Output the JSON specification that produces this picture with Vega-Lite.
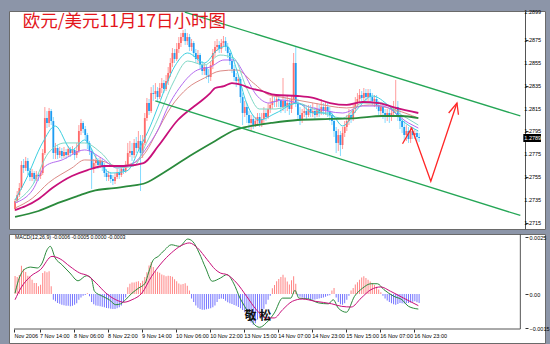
{
"$schema":"https://vega.github.io/schema/vega-lite/v6.json",
"background":"#8c95a8",
"padding":{"left":8,"top":8,"right":0,"bottom":0},
"spacing":3,
"config":{"view":{"stroke":"#6a6a6a","fill":"white"},"axis":{"labelFont":"Liberation Sans","labelFontSize":5.5,"labelColor":"#000","grid":false,"labelOverlap":false,"labelFlush":false,"labelSeparation":0},"axisY":{"labelOverlap":false},"axisRight":{"labelOverlap":false}},
"datasets":{
"bars":[
{"i":0,"o":1.27274,"h":1.27362,"l":1.27257,"c":1.27344,"m":0.00079},
{"i":1,"o":1.27344,"h":1.27431,"l":1.27327,"c":1.27396,"m":0.00075},
{"i":2,"o":1.27396,"h":1.27501,"l":1.27379,"c":1.27457,"m":0.00083},
{"i":3,"o":1.27457,"h":1.27693,"l":1.27440,"c":1.27658,"m":0.00124},
{"i":4,"o":1.27658,"h":1.27710,"l":1.27588,"c":1.27632,"m":0.00110},
{"i":5,"o":1.27632,"h":1.27728,"l":1.27606,"c":1.27693,"m":0.00096},
{"i":6,"o":1.27693,"h":1.27719,"l":1.27571,"c":1.27606,"m":0.00080},
{"i":7,"o":1.27606,"h":1.27632,"l":1.27518,"c":1.27553,"m":0.00078},
{"i":8,"o":1.27553,"h":1.27623,"l":1.27518,"c":1.27588,"m":0.00063},
{"i":9,"o":1.27588,"h":1.27606,"l":1.27501,"c":1.27536,"m":0.00048},
{"i":10,"o":1.27536,"h":1.27606,"l":1.27518,"c":1.27571,"m":0.00048},
{"i":11,"o":1.27571,"h":1.27588,"l":1.27518,"c":1.27562,"m":0.00034},
{"i":12,"o":1.27562,"h":1.27632,"l":1.27536,"c":1.27588,"m":0.00041},
{"i":13,"o":1.27588,"h":1.27797,"l":1.27571,"c":1.27762,"m":0.00092},
{"i":14,"o":1.27762,"h":1.28163,"l":1.27745,"c":1.28067,"m":0.00100},
{"i":15,"o":1.28067,"h":1.28128,"l":1.27980,"c":1.28024,"m":0.00095},
{"i":16,"o":1.28024,"h":1.28155,"l":1.27989,"c":1.28128,"m":0.00100},
{"i":17,"o":1.28128,"h":1.28146,"l":1.28006,"c":1.28041,"m":0.00034},
{"i":18,"o":1.28041,"h":1.28076,"l":1.27710,"c":1.27762,"m":-0.00025},
{"i":19,"o":1.27762,"h":1.27850,"l":1.27710,"c":1.27806,"m":-0.00032},
{"i":20,"o":1.27806,"h":1.27832,"l":1.27710,"c":1.27745,"m":-0.00039},
{"i":21,"o":1.27745,"h":1.27815,"l":1.27719,"c":1.27780,"m":-0.00043},
{"i":22,"o":1.27780,"h":1.27806,"l":1.27710,"c":1.27736,"m":-0.00047},
{"i":23,"o":1.27736,"h":1.27815,"l":1.27719,"c":1.27771,"m":-0.00049},
{"i":24,"o":1.27771,"h":1.27797,"l":1.27710,"c":1.27745,"m":-0.00051},
{"i":25,"o":1.27745,"h":1.27823,"l":1.27728,"c":1.27797,"m":-0.00052},
{"i":26,"o":1.27797,"h":1.27815,"l":1.27728,"c":1.27762,"m":-0.00054},
{"i":27,"o":1.27762,"h":1.27823,"l":1.27745,"c":1.27789,"m":-0.00052},
{"i":28,"o":1.27789,"h":1.27806,"l":1.27702,"c":1.27745,"m":-0.00047},
{"i":29,"o":1.27745,"h":1.27850,"l":1.27719,"c":1.27780,"m":-0.00040},
{"i":30,"o":1.27780,"h":1.28006,"l":1.27762,"c":1.27954,"m":-0.00025},
{"i":31,"o":1.27954,"h":1.28059,"l":1.27919,"c":1.28024,"m":-0.00015},
{"i":32,"o":1.28024,"h":1.28041,"l":1.27937,"c":1.27971,"m":-0.00008},
{"i":33,"o":1.27971,"h":1.27998,"l":1.27876,"c":1.27919,"m":-0.00004},
{"i":34,"o":1.27919,"h":1.27937,"l":1.27797,"c":1.27850,"m":0.00003},
{"i":35,"o":1.27850,"h":1.27867,"l":1.27745,"c":1.27780,"m":-0.00010},
{"i":36,"o":1.27780,"h":1.27797,"l":1.27449,"c":1.27632,"m":-0.00035},
{"i":37,"o":1.27632,"h":1.27710,"l":1.27588,"c":1.27675,"m":-0.00045},
{"i":38,"o":1.27675,"h":1.27745,"l":1.27640,"c":1.27693,"m":-0.00050},
{"i":39,"o":1.27693,"h":1.27719,"l":1.27623,"c":1.27658,"m":-0.00052},
{"i":40,"o":1.27658,"h":1.27728,"l":1.27632,"c":1.27693,"m":-0.00054},
{"i":41,"o":1.27693,"h":1.27710,"l":1.27606,"c":1.27649,"m":-0.00056},
{"i":42,"o":1.27649,"h":1.27675,"l":1.27553,"c":1.27588,"m":-0.00058},
{"i":43,"o":1.27588,"h":1.27623,"l":1.27518,"c":1.27553,"m":-0.00061},
{"i":44,"o":1.27553,"h":1.27606,"l":1.27518,"c":1.27571,"m":-0.00063},
{"i":45,"o":1.27571,"h":1.27597,"l":1.27501,"c":1.27536,"m":-0.00065},
{"i":46,"o":1.27536,"h":1.27571,"l":1.27483,"c":1.27518,"m":-0.00066},
{"i":47,"o":1.27518,"h":1.27588,"l":1.27492,"c":1.27553,"m":-0.00066},
{"i":48,"o":1.27553,"h":1.27623,"l":1.27536,"c":1.27588,"m":-0.00063},
{"i":49,"o":1.27588,"h":1.27623,"l":1.27536,"c":1.27571,"m":-0.00058},
{"i":50,"o":1.27571,"h":1.27658,"l":1.27553,"c":1.27623,"m":-0.00050},
{"i":51,"o":1.27623,"h":1.27658,"l":1.27579,"c":1.27606,"m":-0.00035},
{"i":52,"o":1.27606,"h":1.27693,"l":1.27588,"c":1.27658,"m":-0.00015},
{"i":53,"o":1.27658,"h":1.27850,"l":1.27640,"c":1.27762,"m":0.00030},
{"i":54,"o":1.27762,"h":1.27867,"l":1.27728,"c":1.27780,"m":0.00045},
{"i":55,"o":1.27780,"h":1.27850,"l":1.27693,"c":1.27745,"m":0.00050},
{"i":56,"o":1.27745,"h":1.27884,"l":1.27719,"c":1.27850,"m":0.00051},
{"i":57,"o":1.27850,"h":1.27902,"l":1.27762,"c":1.27806,"m":0.00054},
{"i":58,"o":1.27806,"h":1.27954,"l":1.27780,"c":1.27867,"m":0.00056},
{"i":59,"o":1.27867,"h":1.27919,"l":1.27431,"c":1.27762,"m":0.00048},
{"i":60,"o":1.27762,"h":1.27919,"l":1.27719,"c":1.27850,"m":0.00058},
{"i":61,"o":1.27850,"h":1.28111,"l":1.27832,"c":1.28067,"m":0.00075},
{"i":62,"o":1.28067,"h":1.28242,"l":1.28041,"c":1.28198,"m":0.00095},
{"i":63,"o":1.28198,"h":1.28233,"l":1.28094,"c":1.28128,"m":0.00125},
{"i":64,"o":1.28128,"h":1.28337,"l":1.28111,"c":1.28285,"m":0.00140},
{"i":65,"o":1.28285,"h":1.28355,"l":1.28216,"c":1.28277,"m":0.00118},
{"i":66,"o":1.28277,"h":1.28372,"l":1.28233,"c":1.28303,"m":0.00100},
{"i":67,"o":1.28303,"h":1.28337,"l":1.28216,"c":1.28250,"m":0.00098},
{"i":68,"o":1.28250,"h":1.28372,"l":1.28233,"c":1.28329,"m":0.00093},
{"i":69,"o":1.28329,"h":1.28416,"l":1.28285,"c":1.28372,"m":0.00086},
{"i":70,"o":1.28372,"h":1.28399,"l":1.28285,"c":1.28320,"m":0.00082},
{"i":71,"o":1.28320,"h":1.28442,"l":1.28303,"c":1.28390,"m":0.00078},
{"i":72,"o":1.28390,"h":1.28512,"l":1.28355,"c":1.28460,"m":0.00080},
{"i":73,"o":1.28460,"h":1.28590,"l":1.28425,"c":1.28547,"m":0.00079},
{"i":74,"o":1.28547,"h":1.28677,"l":1.28512,"c":1.28634,"m":0.00076},
{"i":75,"o":1.28634,"h":1.28669,"l":1.28547,"c":1.28582,"m":0.00065},
{"i":76,"o":1.28582,"h":1.28721,"l":1.28564,"c":1.28669,"m":0.00056},
{"i":77,"o":1.28669,"h":1.28773,"l":1.28634,"c":1.28721,"m":0.00046},
{"i":78,"o":1.28721,"h":1.28808,"l":1.28686,"c":1.28773,"m":0.00042},
{"i":79,"o":1.28773,"h":1.28834,"l":1.28738,"c":1.28808,"m":0.00044},
{"i":80,"o":1.28808,"h":1.28843,"l":1.28704,"c":1.28738,"m":0.00047},
{"i":81,"o":1.28738,"h":1.28808,"l":1.28704,"c":1.28773,"m":0.00036},
{"i":82,"o":1.28773,"h":1.28799,"l":1.28651,"c":1.28686,"m":0.00015},
{"i":83,"o":1.28686,"h":1.28756,"l":1.28651,"c":1.28721,"m":-0.00020},
{"i":84,"o":1.28721,"h":1.28738,"l":1.28599,"c":1.28634,"m":-0.00035},
{"i":85,"o":1.28634,"h":1.28669,"l":1.28547,"c":1.28582,"m":-0.00050},
{"i":86,"o":1.28582,"h":1.28660,"l":1.28547,"c":1.28616,"m":-0.00060},
{"i":87,"o":1.28616,"h":1.28634,"l":1.28494,"c":1.28529,"m":-0.00066},
{"i":88,"o":1.28529,"h":1.28564,"l":1.28442,"c":1.28477,"m":-0.00069},
{"i":89,"o":1.28477,"h":1.28547,"l":1.28442,"c":1.28512,"m":-0.00069},
{"i":90,"o":1.28512,"h":1.28529,"l":1.28407,"c":1.28442,"m":-0.00067},
{"i":91,"o":1.28442,"h":1.28494,"l":1.28372,"c":1.28425,"m":-0.00065},
{"i":92,"o":1.28425,"h":1.28564,"l":1.28390,"c":1.28529,"m":-0.00062},
{"i":93,"o":1.28529,"h":1.28669,"l":1.28494,"c":1.28634,"m":-0.00058},
{"i":94,"o":1.28634,"h":1.28738,"l":1.28599,"c":1.28686,"m":-0.00050},
{"i":95,"o":1.28686,"h":1.28756,"l":1.28651,"c":1.28704,"m":-0.00035},
{"i":96,"o":1.28704,"h":1.28738,"l":1.28634,"c":1.28669,"m":-0.00022},
{"i":97,"o":1.28669,"h":1.28756,"l":1.28634,"c":1.28721,"m":-0.00020},
{"i":98,"o":1.28721,"h":1.28782,"l":1.28686,"c":1.28738,"m":-0.00022},
{"i":99,"o":1.28738,"h":1.28773,"l":1.28651,"c":1.28686,"m":-0.00030},
{"i":100,"o":1.28686,"h":1.28721,"l":1.28590,"c":1.28634,"m":-0.00036},
{"i":101,"o":1.28634,"h":1.28651,"l":1.28529,"c":1.28564,"m":-0.00040},
{"i":102,"o":1.28564,"h":1.28599,"l":1.28460,"c":1.28494,"m":-0.00044},
{"i":103,"o":1.28494,"h":1.28529,"l":1.28390,"c":1.28425,"m":-0.00048},
{"i":104,"o":1.28425,"h":1.28460,"l":1.28337,"c":1.28390,"m":-0.00052},
{"i":105,"o":1.28390,"h":1.28442,"l":1.28355,"c":1.28407,"m":-0.00057},
{"i":106,"o":1.28407,"h":1.28425,"l":1.28198,"c":1.28250,"m":-0.00063},
{"i":107,"o":1.28250,"h":1.28285,"l":1.28006,"c":1.28111,"m":-0.00070},
{"i":108,"o":1.28111,"h":1.28216,"l":1.28076,"c":1.28163,"m":-0.00080},
{"i":109,"o":1.28163,"h":1.28198,"l":1.28024,"c":1.28094,"m":-0.00092},
{"i":110,"o":1.28094,"h":1.28128,"l":1.27971,"c":1.28024,"m":-0.00105},
{"i":111,"o":1.28024,"h":1.28094,"l":1.27954,"c":1.28059,"m":-0.00125},
{"i":112,"o":1.28059,"h":1.28094,"l":1.27971,"c":1.28006,"m":-0.00135},
{"i":113,"o":1.28006,"h":1.28076,"l":1.27989,"c":1.28041,"m":-0.00128},
{"i":114,"o":1.28041,"h":1.28111,"l":1.28006,"c":1.28076,"m":-0.00112},
{"i":115,"o":1.28076,"h":1.28111,"l":1.27989,"c":1.28024,"m":-0.00100},
{"i":116,"o":1.28024,"h":1.28111,"l":1.27989,"c":1.28059,"m":-0.00085},
{"i":117,"o":1.28059,"h":1.28163,"l":1.28024,"c":1.28111,"m":-0.00065},
{"i":118,"o":1.28111,"h":1.28146,"l":1.28041,"c":1.28076,"m":-0.00045},
{"i":119,"o":1.28076,"h":1.28198,"l":1.28059,"c":1.28146,"m":-0.00025},
{"i":120,"o":1.28146,"h":1.28242,"l":1.28111,"c":1.28181,"m":-0.00008},
{"i":121,"o":1.28181,"h":1.28268,"l":1.28146,"c":1.28216,"m":0.00025},
{"i":122,"o":1.28216,"h":1.28250,"l":1.28163,"c":1.28207,"m":0.00040},
{"i":123,"o":1.28207,"h":1.28268,"l":1.28163,"c":1.28233,"m":0.00056},
{"i":124,"o":1.28233,"h":1.28268,"l":1.28163,"c":1.28224,"m":0.00066},
{"i":125,"o":1.28224,"h":1.28233,"l":1.28111,"c":1.28163,"m":0.00075},
{"i":126,"o":1.28163,"h":1.28416,"l":1.28128,"c":1.28216,"m":0.00085},
{"i":127,"o":1.28216,"h":1.28250,"l":1.28111,"c":1.28163,"m":0.00072},
{"i":128,"o":1.28163,"h":1.28268,"l":1.28128,"c":1.28198,"m":0.00055},
{"i":129,"o":1.28198,"h":1.28233,"l":1.28094,"c":1.28146,"m":0.00042},
{"i":130,"o":1.28146,"h":1.28268,"l":1.28111,"c":1.28233,"m":0.00060},
{"i":131,"o":1.28233,"h":1.28634,"l":1.28198,"c":1.28547,"m":0.00078},
{"i":132,"o":1.28547,"h":1.28686,"l":1.28163,"c":1.28198,"m":0.00045},
{"i":133,"o":1.28198,"h":1.28233,"l":1.28041,"c":1.28094,"m":-0.00008},
{"i":134,"o":1.28094,"h":1.28163,"l":1.28006,"c":1.28059,"m":-0.00012},
{"i":135,"o":1.28059,"h":1.28146,"l":1.28024,"c":1.28111,"m":-0.00015},
{"i":136,"o":1.28111,"h":1.28181,"l":1.28076,"c":1.28128,"m":-0.00018},
{"i":137,"o":1.28128,"h":1.28163,"l":1.28059,"c":1.28094,"m":-0.00020},
{"i":138,"o":1.28094,"h":1.28181,"l":1.28076,"c":1.28146,"m":-0.00022},
{"i":139,"o":1.28146,"h":1.28181,"l":1.28076,"c":1.28111,"m":-0.00024},
{"i":140,"o":1.28111,"h":1.28198,"l":1.28076,"c":1.28128,"m":-0.00025},
{"i":141,"o":1.28128,"h":1.28163,"l":1.28059,"c":1.28094,"m":-0.00024},
{"i":142,"o":1.28094,"h":1.28198,"l":1.28076,"c":1.28146,"m":-0.00022},
{"i":143,"o":1.28146,"h":1.28181,"l":1.28076,"c":1.28111,"m":-0.00020},
{"i":144,"o":1.28111,"h":1.28233,"l":1.28094,"c":1.28163,"m":-0.00018},
{"i":145,"o":1.28163,"h":1.28198,"l":1.28094,"c":1.28128,"m":-0.00015},
{"i":146,"o":1.28128,"h":1.28216,"l":1.28094,"c":1.28163,"m":-0.00012},
{"i":147,"o":1.28163,"h":1.28198,"l":1.28076,"c":1.28128,"m":-0.00008},
{"i":148,"o":1.28128,"h":1.28163,"l":1.28041,"c":1.28094,"m":-0.00005},
{"i":149,"o":1.28094,"h":1.28128,"l":1.28006,"c":1.28041,"m":0.00015},
{"i":150,"o":1.28041,"h":1.28076,"l":1.27902,"c":1.27954,"m":0.00026},
{"i":151,"o":1.27954,"h":1.27989,"l":1.27762,"c":1.27850,"m":-0.00015},
{"i":152,"o":1.27850,"h":1.27971,"l":1.27780,"c":1.27919,"m":-0.00035},
{"i":153,"o":1.27919,"h":1.27954,"l":1.27736,"c":1.27832,"m":-0.00045},
{"i":154,"o":1.27832,"h":1.27989,"l":1.27797,"c":1.27937,"m":-0.00047},
{"i":155,"o":1.27937,"h":1.28041,"l":1.27902,"c":1.27989,"m":-0.00040},
{"i":156,"o":1.27989,"h":1.28094,"l":1.27954,"c":1.28041,"m":-0.00025},
{"i":157,"o":1.28041,"h":1.28146,"l":1.28006,"c":1.28094,"m":-0.00008},
{"i":158,"o":1.28094,"h":1.28128,"l":1.28024,"c":1.28059,"m":0.00015},
{"i":159,"o":1.28059,"h":1.28198,"l":1.28041,"c":1.28146,"m":0.00026},
{"i":160,"o":1.28146,"h":1.28250,"l":1.28111,"c":1.28198,"m":0.00042},
{"i":161,"o":1.28198,"h":1.28285,"l":1.28163,"c":1.28233,"m":0.00052},
{"i":162,"o":1.28233,"h":1.28320,"l":1.28198,"c":1.28268,"m":0.00063},
{"i":163,"o":1.28268,"h":1.28303,"l":1.28216,"c":1.28242,"m":0.00072},
{"i":164,"o":1.28242,"h":1.28329,"l":1.28216,"c":1.28285,"m":0.00078},
{"i":165,"o":1.28285,"h":1.28320,"l":1.28216,"c":1.28250,"m":0.00070},
{"i":166,"o":1.28250,"h":1.28320,"l":1.28216,"c":1.28285,"m":0.00062},
{"i":167,"o":1.28285,"h":1.28320,"l":1.28207,"c":1.28250,"m":0.00055},
{"i":168,"o":1.28250,"h":1.28285,"l":1.28181,"c":1.28216,"m":0.00048},
{"i":169,"o":1.28216,"h":1.28268,"l":1.28163,"c":1.28233,"m":0.00040},
{"i":170,"o":1.28233,"h":1.28268,"l":1.28146,"c":1.28181,"m":0.00032},
{"i":171,"o":1.28181,"h":1.28216,"l":1.28094,"c":1.28128,"m":0.00020},
{"i":172,"o":1.28128,"h":1.28198,"l":1.28076,"c":1.28163,"m":0.00008},
{"i":173,"o":1.28163,"h":1.28198,"l":1.28059,"c":1.28111,"m":-0.00008},
{"i":174,"o":1.28111,"h":1.28146,"l":1.28024,"c":1.28076,"m":-0.00020},
{"i":175,"o":1.28076,"h":1.28146,"l":1.28041,"c":1.28111,"m":-0.00028},
{"i":176,"o":1.28111,"h":1.28146,"l":1.28024,"c":1.28076,"m":-0.00035},
{"i":177,"o":1.28076,"h":1.28163,"l":1.28041,"c":1.28111,"m":-0.00040},
{"i":178,"o":1.28111,"h":1.28216,"l":1.28076,"c":1.28146,"m":-0.00045},
{"i":179,"o":1.28146,"h":1.28399,"l":1.28111,"c":1.28163,"m":-0.00047},
{"i":180,"o":1.28163,"h":1.28216,"l":1.28041,"c":1.28094,"m":-0.00044},
{"i":181,"o":1.28094,"h":1.28146,"l":1.27971,"c":1.28041,"m":-0.00039},
{"i":182,"o":1.28041,"h":1.28094,"l":1.27937,"c":1.27989,"m":-0.00040},
{"i":183,"o":1.27989,"h":1.28041,"l":1.27867,"c":1.27919,"m":-0.00042},
{"i":184,"o":1.27919,"h":1.28006,"l":1.27867,"c":1.27954,"m":-0.00041},
{"i":185,"o":1.27954,"h":1.27989,"l":1.27850,"c":1.27884,"m":-0.00039},
{"i":186,"o":1.27884,"h":1.27989,"l":1.27850,"c":1.27954,"m":-0.00037},
{"i":187,"o":1.27954,"h":1.27989,"l":1.27884,"c":1.27919,"m":-0.00034},
{"i":188,"o":1.27919,"h":1.27971,"l":1.27884,"c":1.27937,"m":-0.00032},
{"i":189,"o":1.27937,"h":1.27954,"l":1.27867,"c":1.27902,"m":-0.00036},
{"i":190,"o":1.27902,"h":1.27937,"l":1.27858,"c":1.27893,"m":-0.00039}
],
"ma":[
{"s":"g","x":0,"p":1.27205},{"s":"g","x":11.04,"p":1.27257},{"s":"g","x":20.27,"p":1.27327},{"s":"g","x":29.49,"p":1.27388},{"s":"g","x":36.42,"p":1.27431},{"s":"g","x":46.57,"p":1.27457},{"s":"g","x":54.41,"p":1.27475},{"s":"g","x":61.34,"p":1.27501},{"s":"g","x":69.64,"p":1.27588},{"s":"g","x":82.1,"p":1.27736},{"s":"g","x":94.1,"p":1.27867},{"s":"g","x":103.33,"p":1.27963},{"s":"g","x":111.18,"p":1.27998},{"s":"g","x":120.41,"p":1.28024},{"s":"g","x":132.87,"p":1.2805},{"s":"g","x":148.1,"p":1.28059},{"s":"g","x":160.56,"p":1.28067},{"s":"g","x":172.56,"p":1.28085},{"s":"g","x":181.78,"p":1.28085},{"s":"g","x":189.63,"p":1.28067},
{"s":"m","x":0,"p":1.27265},{"s":"m","x":5.04,"p":1.273},{"s":"m","x":11.04,"p":1.27362},{"s":"m","x":17.5,"p":1.27457},{"s":"m","x":26.73,"p":1.27562},{"s":"m","x":34.11,"p":1.27614},{"s":"m","x":41.95,"p":1.27649},{"s":"m","x":51.18,"p":1.27649},{"s":"m","x":60.41,"p":1.27675},{"s":"m","x":67.33,"p":1.27823},{"s":"m","x":76.56,"p":1.2805},{"s":"m","x":84.41,"p":1.28172},{"s":"m","x":88.1,"p":1.28224},{"s":"m","x":91.79,"p":1.28285},{"s":"m","x":94.1,"p":1.28329},{"s":"m","x":98.25,"p":1.28346},{"s":"m","x":101.95,"p":1.28372},{"s":"m","x":106.56,"p":1.28355},{"s":"m","x":110.26,"p":1.28329},{"s":"m","x":115.79,"p":1.28303},{"s":"m","x":122.71,"p":1.28268},{"s":"m","x":132.87,"p":1.28259},{"s":"m","x":140.25,"p":1.28242},{"s":"m","x":148.1,"p":1.28198},{"s":"m","x":155.94,"p":1.28181},{"s":"m","x":163.33,"p":1.28207},{"s":"m","x":171.18,"p":1.28198},{"s":"m","x":179.01,"p":1.28155},{"s":"m","x":189.63,"p":1.28111},
{"s":"sa","x":0,"p":1.27283},{"s":"sa","x":8.27,"p":1.2737},{"s":"sa","x":15.65,"p":1.27501},{"s":"sa","x":26.73,"p":1.27632},{"s":"sa","x":32.73,"p":1.27702},{"s":"sa","x":40.57,"p":1.27693},{"s":"sa","x":47.95,"p":1.27649},{"s":"sa","x":55.8,"p":1.27675},{"s":"sa","x":61.8,"p":1.2778},{"s":"sa","x":65.95,"p":1.27919},{"s":"sa","x":73.33,"p":1.28163},{"s":"sa","x":81.18,"p":1.28329},{"s":"sa","x":89.02,"p":1.28416},{"s":"sa","x":96.41,"p":1.28477},{"s":"sa","x":104.25,"p":1.28486},{"s":"sa","x":112.1,"p":1.28372},{"s":"sa","x":119.48,"p":1.28268},{"s":"sa","x":125.02,"p":1.2825},{"s":"sa","x":140.25,"p":1.28198},{"s":"sa","x":155.94,"p":1.28155},{"s":"sa","x":166.56,"p":1.28181},{"s":"sa","x":179.01,"p":1.28137},{"s":"sa","x":189.63,"p":1.28067},
{"s":"v","x":0,"p":1.27327},{"s":"v","x":8.27,"p":1.2744},{"s":"v","x":14.27,"p":1.27649},{"s":"v","x":22.11,"p":1.27702},{"s":"v","x":32.73,"p":1.27789},{"s":"v","x":40.57,"p":1.27719},{"s":"v","x":47.95,"p":1.27632},{"s":"v","x":55.8,"p":1.27675},{"s":"v","x":61.8,"p":1.27806},{"s":"v","x":68.26,"p":1.28006},{"s":"v","x":70.56,"p":1.28111},{"s":"v","x":77.95,"p":1.28346},{"s":"v","x":85.79,"p":1.28486},{"s":"v","x":91.79,"p":1.28512},{"s":"v","x":98.25,"p":1.28573},{"s":"v","x":102.87,"p":1.28573},{"s":"v","x":107.49,"p":1.2846},{"s":"v","x":113.48,"p":1.28268},{"s":"v","x":119.48,"p":1.28198},{"s":"v","x":125.02,"p":1.28224},{"s":"v","x":140.25,"p":1.28155},{"s":"v","x":154.09,"p":1.28111},{"s":"v","x":163.33,"p":1.28172},{"s":"v","x":172.56,"p":1.28172},{"s":"v","x":185.01,"p":1.28024},{"s":"v","x":189.63,"p":1.2798},
{"s":"c2","x":0,"p":1.27336},{"s":"c2","x":8.27,"p":1.27483},{"s":"c2","x":15.65,"p":1.27762},{"s":"c2","x":23.5,"p":1.2785},{"s":"c2","x":32.73,"p":1.2785},{"s":"c2","x":40.57,"p":1.27762},{"s":"c2","x":47.95,"p":1.27632},{"s":"c2","x":55.8,"p":1.27649},{"s":"c2","x":61.8,"p":1.2785},{"s":"c2","x":67.33,"p":1.28067},{"s":"c2","x":74.26,"p":1.28372},{"s":"c2","x":81.18,"p":1.28564},{"s":"c2","x":89.02,"p":1.28529},{"s":"c2","x":96.41,"p":1.28616},{"s":"c2","x":102.87,"p":1.2859},{"s":"c2","x":108.87,"p":1.28329},{"s":"c2","x":114.87,"p":1.28146},{"s":"c2","x":122.71,"p":1.28146},{"s":"c2","x":132.87,"p":1.28198},{"s":"c2","x":140.25,"p":1.28146},{"s":"c2","x":154.09,"p":1.28067},{"s":"c2","x":163.33,"p":1.28198},{"s":"c2","x":172.56,"p":1.28198},{"s":"c2","x":181.78,"p":1.28094},{"s":"c2","x":189.63,"p":1.28006},
{"s":"c1","x":0,"p":1.27353},{"s":"c1","x":5.04,"p":1.27527},{"s":"c1","x":12.88,"p":1.2785},{"s":"c1","x":18.88,"p":1.27998},{"s":"c1","x":26.73,"p":1.27789},{"s":"c1","x":32.73,"p":1.27876},{"s":"c1","x":38.73,"p":1.27702},{"s":"c1","x":45.19,"p":1.27588},{"s":"c1","x":52.57,"p":1.27606},{"s":"c1","x":59.03,"p":1.27823},{"s":"c1","x":63.65,"p":1.27998},{"s":"c1","x":67.33,"p":1.28172},{"s":"c1","x":75.18,"p":1.28521},{"s":"c1","x":81.18,"p":1.28634},{"s":"c1","x":89.02,"p":1.28547},{"s":"c1","x":95.02,"p":1.2866},{"s":"c1","x":99.64,"p":1.28695},{"s":"c1","x":104.25,"p":1.28486},{"s":"c1","x":108.87,"p":1.28198},{"s":"c1","x":114.87,"p":1.2805},{"s":"c1","x":122.71,"p":1.28111},{"s":"c1","x":132.87,"p":1.28198},{"s":"c1","x":140.25,"p":1.28111},{"s":"c1","x":148.1,"p":1.28111},{"s":"c1","x":154.09,"p":1.27998},{"s":"c1","x":160.56,"p":1.28137},{"s":"c1","x":167.94,"p":1.28259},{"s":"c1","x":175.78,"p":1.28172},{"s":"c1","x":181.78,"p":1.2805},{"s":"c1","x":189.63,"p":1.27954}
],
"ch":[{"g":"u","x":79.8,"p":1.28991},{"g":"u","x":237.6,"p":1.28085},{"g":"d","x":65.95,"p":1.28216},{"g":"d","x":237.6,"p":1.27218}],
"arrow":[{"g":"a","k":0,"x":182.2,"p":1.27843},{"g":"a","k":1,"x":186.5,"p":1.2798},{"g":"a","k":2,"x":195.5,"p":1.27516},{"g":"a","k":3,"x":207.8,"p":1.28198},{"g":"h","k":0,"x":203.9,"p":1.28111},{"g":"h","k":1,"x":207.8,"p":1.28198},{"g":"h","k":2,"x":208.5,"p":1.28096}],
"ticks":[{"p":1.2715,"t":"1.2715"},{"p":1.2735,"t":"1.2735"},{"p":1.2755,"t":"1.2755"},{"p":1.2775,"t":"1.2775"},{"p":1.2795,"t":"1.2795"},{"p":1.2815,"t":"1.2815"},{"p":1.2835,"t":"1.2835"},{"p":1.2855,"t":"1.2855"},{"p":1.2875,"t":"1.2875"},{"p":1.2899,"t":"1.2899"}],
"macd":[
{"s":"k","x":0,"v":0.00004},{"s":"k","x":1.21,"v":0.00048},{"s":"k","x":4.25,"v":0.00107},{"s":"k","x":7.35,"v":0.00118},{"s":"k","x":10.44,"v":0.00114},{"s":"k","x":12.74,"v":0.00136},{"s":"k","x":15.05,"v":0.00194},{"s":"k","x":16.57,"v":0.00209},{"s":"k","x":18.88,"v":0.00158},{"s":"k","x":21.97,"v":0.00129},{"s":"k","x":25.8,"v":0.00092},{"s":"k","x":29.64,"v":0.00058},{"s":"k","x":33.51,"v":0.0008},{"s":"k","x":35.82,"v":0.0007},{"s":"k","x":37.34,"v":0.00012},{"s":"k","x":41.17,"v":-0.0001},{"s":"k","x":44.26,"v":-0.00025},{"s":"k","x":47.35,"v":-0.00047},{"s":"k","x":49.66,"v":-0.00043},{"s":"k","x":51.97,"v":-0.00025},{"s":"k","x":55.01,"v":0.00004},{"s":"k","x":58.11,"v":0.00026},{"s":"k","x":61.2,"v":0.00048},{"s":"k","x":62.72,"v":0.00092},{"s":"k","x":65.03,"v":0.0015},{"s":"k","x":67.34,"v":0.00165},{"s":"k","x":70.43,"v":0.00194},{"s":"k","x":73.47,"v":0.00216},{"s":"k","x":77.35,"v":0.00209},{"s":"k","x":81.18,"v":0.00241},{"s":"k","x":83.49,"v":0.00231},{"s":"k","x":86.58,"v":0.0018},{"s":"k","x":89.63,"v":0.00114},{"s":"k","x":92.72,"v":0.00056},{"s":"k","x":96.55,"v":0.0007},{"s":"k","x":99.64,"v":0.00085},{"s":"k","x":102.73,"v":0.00048},{"s":"k","x":105.78,"v":-0.00018},{"s":"k","x":108.87,"v":-0.00069},{"s":"k","x":111.96,"v":-0.00127},{"s":"k","x":115.01,"v":-0.00146},{"s":"k","x":118.1,"v":-0.00127},{"s":"k","x":121.93,"v":-0.00083},{"s":"k","x":125.8,"v":-0.00018},{"s":"k","x":129.64,"v":-0.00018},{"s":"k","x":131.62,"v":0.00016},{"s":"k","x":133.47,"v":-0.00018},{"s":"k","x":138.08,"v":-0.00022},{"s":"k","x":142.69,"v":-0.00039},{"s":"k","x":147.31,"v":-0.00043},{"s":"k","x":149.62,"v":-0.00025},{"s":"k","x":151.93,"v":-0.00061},{"s":"k","x":155.8,"v":-0.0008},{"s":"k","x":159.63,"v":-0.0001},{"s":"k","x":163.46,"v":0.00026},{"s":"k","x":167.34,"v":0.00045},{"s":"k","x":170.38,"v":0.00045},{"s":"k","x":173.47,"v":0.00019},{"s":"k","x":178.09,"v":-0.0001},{"s":"k","x":181.92,"v":-0.00025},{"s":"k","x":185.01,"v":-0.00054},{"s":"k","x":189.63,"v":-0.00066},
{"s":"s","x":0,"v":-0.00025},{"s":"s","x":2.73,"v":0.00026},{"s":"s","x":7.35,"v":0.00078},{"s":"s","x":11.96,"v":0.00107},{"s":"s","x":17.36,"v":0.00165},{"s":"s","x":21.19,"v":0.00154},{"s":"s","x":25.8,"v":0.00121},{"s":"s","x":30.42,"v":0.00092},{"s":"s","x":34.25,"v":0.0008},{"s":"s","x":38.12,"v":0.00048},{"s":"s","x":42.74,"v":0.00004},{"s":"s","x":47.35,"v":-0.00025},{"s":"s","x":51.18,"v":-0.00036},{"s":"s","x":55.01,"v":-0.00025},{"s":"s","x":59.63,"v":0.00004},{"s":"s","x":64.24,"v":0.00078},{"s":"s","x":68.86,"v":0.00136},{"s":"s","x":73.47,"v":0.0018},{"s":"s","x":78.09,"v":0.00212},{"s":"s","x":81.96,"v":0.00224},{"s":"s","x":85.79,"v":0.00202},{"s":"s","x":90.41,"v":0.0015},{"s":"s","x":94.24,"v":0.00107},{"s":"s","x":96.55,"v":0.00092},{"s":"s","x":99.64,"v":0.00085},{"s":"s","x":104.25,"v":0.00048},{"s":"s","x":108.87,"v":-0.0001},{"s":"s","x":113.48,"v":-0.00069},{"s":"s","x":118.1,"v":-0.00105},{"s":"s","x":121.93,"v":-0.00105},{"s":"s","x":125.8,"v":-0.00069},{"s":"s","x":130.42,"v":-0.00032},{"s":"s","x":135.03,"v":-0.00022},{"s":"s","x":141.17,"v":-0.00032},{"s":"s","x":148.88,"v":-0.00043},{"s":"s","x":153.49,"v":-0.00054},{"s":"s","x":158.11,"v":-0.00057},{"s":"s","x":162.72,"v":-0.00018},{"s":"s","x":167.34,"v":0.00019},{"s":"s","x":171.95,"v":0.00031},{"s":"s","x":176.57,"v":0.00012},{"s":"s","x":182.7,"v":-0.00018},{"s":"s","x":189.63,"v":-0.00051}
]
},
"vconcat":[
{
"width":536,"height":218,
"layer":[
{"data":{"name":"bars"},"mark":{"type":"rule","strokeWidth":1},
 "encoding":{
  "x":{"field":"i","type":"quantitative","scale":{"domain":[-0.5,246.85],"nice":false,"zero":false},"axis":null},
  "y":{"field":"l","type":"quantitative","scale":{"domain":[1.271,1.29],"nice":false,"zero":false},
   "axis":{"orient":"right","offset":-20,"title":null,"values":[1.2715,1.2735,1.2755,1.2775,1.2795,1.2815,1.2835,1.2855,1.2875,1.2899],"labels":false,"tickSize":3,"tickColor":"#333","domainColor":"#555"}},
  "y2":{"field":"h"},
  "color":{"condition":{"test":"datum.c > datum.o","value":"#ff9c9c"},"value":"#86dcff"}}},
{"data":{"name":"bars"},"mark":{"type":"bar","size":1.8},
 "encoding":{
  "x":{"field":"i","type":"quantitative","axis":null},
  "y":{"field":"o","type":"quantitative"},
  "y2":{"field":"c"},
  "color":{"condition":{"test":"datum.c > datum.o","value":"#ff6a6a"},"value":"#1e9cf2"}}},
{"data":{"name":"ma"},"transform":[{"filter":"datum.s != 'g' && datum.s != 'm'"}],"mark":{"type":"line","interpolate":"monotone","strokeWidth":1},
 "encoding":{
  "x":{"field":"x","type":"quantitative","axis":null},
  "y":{"field":"p","type":"quantitative"},
  "color":{"field":"s","type":"nominal","scale":{"domain":["g","m","sa","v","c2","c1"],"range":["#2a8a3c","#c8107a","#dc8a86","#b46cf0","#7fd8c6","#3ccfe0"]},"legend":null},
  "order":{"field":"x"}}},
{"data":{"name":"ma"},"transform":[{"filter":"datum.s == 'g' || datum.s == 'm'"}],"mark":{"type":"line","interpolate":"monotone","strokeWidth":1.8},
 "encoding":{
  "x":{"field":"x","type":"quantitative","axis":null},
  "y":{"field":"p","type":"quantitative"},
  "color":{"field":"s","type":"nominal","legend":null},
  "order":{"field":"x"}}},
{"data":{"name":"ch"},"mark":{"type":"line","color":"#25a656","strokeWidth":1.3},
 "encoding":{"x":{"field":"x","type":"quantitative","axis":null},"y":{"field":"p","type":"quantitative"},"detail":{"field":"g"}}},
{"data":{"name":"arrow"},"mark":{"type":"line","color":"#ff2626","strokeWidth":1.3},
 "encoding":{"x":{"field":"x","type":"quantitative","axis":null},"y":{"field":"p","type":"quantitative"},"detail":{"field":"g"},"order":{"field":"k"}}},
{"data":{"name":"ticks"},"mark":{"type":"text","font":"Liberation Sans","fontSize":5.5,"color":"#000","align":"left","baseline":{"expr":"'middle'"},"dx":4},
 "encoding":{"x":{"datum":237.6,"type":"quantitative"},"y":{"field":"p","type":"quantitative"},"text":{"field":"t"},"baseline":{"condition":{"test":"datum.p > 1.289","value":"top"},"value":"middle"}}},
{"data":{"values":[{}]},"mark":{"type":"text","text":"欧元/美元11月17日小时图","font":"Noto Sans CJK SC","fontSize":17.5,"color":"#e3161c","align":"left","baseline":"middle"},
 "encoding":{"x":{"datum":3.6,"type":"quantitative"},"y":{"datum":1.289,"type":"quantitative"}}},
{"data":{"values":[{}]},"mark":{"type":"rect","color":"#000"},
 "encoding":{"x":{"datum":239.0,"type":"quantitative"},"x2":{"datum":247.3},"y":{"datum":1.27858,"type":"quantitative"},"y2":{"datum":1.27928}}},
{"data":{"values":[{}]},"mark":{"type":"text","text":"1.2789","font":"Liberation Sans","fontSize":5.5,"color":"#fff","align":"left","baseline":"middle","dx":1},
 "encoding":{"x":{"datum":239.0,"type":"quantitative"},"y":{"datum":1.27893,"type":"quantitative"}}}
]
},
{
"width":536,"height":109,
"layer":[
{"data":{"name":"bars"},"mark":{"type":"bar","size":1},
 "encoding":{
  "x":{"field":"i","type":"quantitative","scale":{"domain":[-0.5,246.85],"nice":false,"zero":false},
   "axis":{"orient":"bottom","offset":-14,"title":null,"domain":false,"values":[-0.5,11.5,27.5,43.5,59.5,75.5,91.5,107.5,123.5,139.5,155.5,171.5,187.5],
    "labelExpr":"datum.value < 0 ? 'Nov 2006' : ['7 Nov 14:00','8 Nov 06:00','8 Nov 22:00','9 Nov 14:00','10 Nov 06:00','10 Nov 22:00','13 Nov 15:00','14 Nov 07:00','14 Nov 23:00','15 Nov 15:00','16 Nov 07:00','16 Nov 23:00'][round((datum.value-11.5)/16)]",
    "labelAlign":"left","labelBaseline":"top","labelPadding":1,"labelDx":1,"tickSize":3,"tickColor":"#333","labelOverlap":false,"labelFlush":false}},
  "y":{"field":"m","type":"quantitative","scale":{"domain":[-0.002149,0.002632],"nice":false,"zero":false},
   "axis":{"orient":"right","offset":-20,"title":null,"domain":false,"values":[-0.0015,0,0.0025],"labelExpr":"datum.value == 0 ? '0.00' : format(datum.value, '.4f')","tickSize":3,"tickColor":"#333","labelPadding":1,"labelAlign":"left","labelOverlap":false,"labelFlush":false}},
  "y2":{"datum":0},
  "color":{"condition":{"test":"datum.m > 0","value":"#ff8484"},"value":"#7474ff"}}},
{"data":{"name":"macd"},"mark":{"type":"line","strokeWidth":1,"interpolate":"monotone"},
 "encoding":{
  "x":{"field":"x","type":"quantitative"},
  "y":{"field":"v","type":"quantitative"},
  "color":{"field":"s","type":"nominal","scale":{"domain":["k","s"],"range":["#3a3a3a","#3fe03f"]},"legend":null},
  "order":{"field":"x"}}},
{"data":{"values":[{}]},"mark":{"type":"text","text":"MACD(12,26,9) -0.0006 -0.0005 0.0000 -0.0003","font":"Liberation Sans","fontSize":5.2,"color":"#000","align":"left","baseline":"middle","dx":1},
 "encoding":{"x":{"datum":-0.5,"type":"quantitative"},"y":{"datum":0.0025,"type":"quantitative"}}},
{"data":{"values":[{}]},"mark":{"type":"text","text":"敬 松","font":"Noto Sans CJK SC","fontSize":12,"fontWeight":"bold","color":"#111","align":"left","baseline":"middle"},
 "encoding":{"x":{"datum":107.9,"type":"quantitative"},"y":{"datum":-0.000965,"type":"quantitative"}}},
{"data":{"values":[{}]},"mark":{"type":"rule","color":"#555","strokeWidth":1},
 "encoding":{"x":{"datum":237.6,"type":"quantitative"},"y":{"datum":0.002632,"type":"quantitative"},"y2":{"datum":-0.001535}}},
{"data":{"values":[{}]},"mark":{"type":"rule","color":"#555","strokeWidth":1},
 "encoding":{"x":{"datum":-0.5,"type":"quantitative"},"x2":{"datum":237.6},"y":{"datum":-0.001535,"type":"quantitative"}}}
]
}
]
}
